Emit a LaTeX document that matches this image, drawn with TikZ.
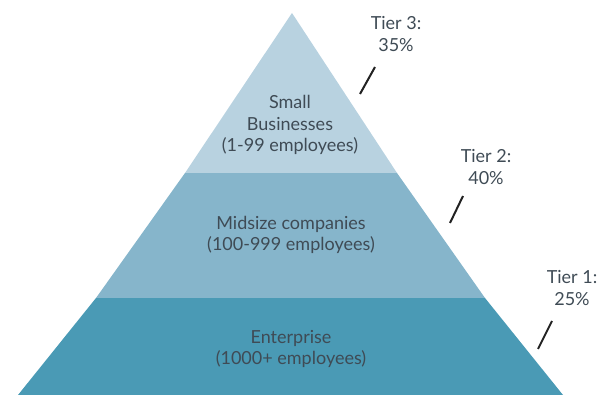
\documentclass[tikz,border=0pt]{standalone}
\usepackage{fontspec}
\setmainfont{Lato}
\definecolor{tierA}{HTML}{B8D2E0}
\definecolor{tierB}{HTML}{86B5CB}
\definecolor{tierC}{HTML}{4A9AB5}
\definecolor{txt}{HTML}{3F4B55}
\definecolor{tick}{HTML}{222222}
\begin{document}
\begin{tikzpicture}[x=1pt,y=-1pt,
  lab/.style={text=txt,font=\fontsize{18}{21.5}\selectfont,align=center,inner sep=0pt},
  tickline/.style={draw=tick,line width=2pt}]
\useasboundingbox (0,0) rectangle (597,395);
\fill[tierC] (96,298) -- (485,298) -- (563,395) -- (18,395) -- cycle;
\fill[tierB] (185,173) -- (397,173) -- (485,298) -- (96,298) -- cycle;
\fill[tierA] (292,13) -- (397,173) -- (185,173) -- cycle;
\node[lab] (small) at (290,125) {Small\\Businesses\\(1-99 employees)};
\node[lab] (mid) at (291,235) {Midsize companies\\(100-999 employees)};
\node[lab] (ent) at (291,349) {Enterprise\\(1000+ employees)};
\node[lab] (t3) at (396,34) {Tier 3:\\35\%};
\node[lab] (t2) at (486,167) {Tier 2:\\40\%};
\node[lab] (t1) at (572,288) {Tier 1:\\25\%};
\coordinate (a3) at (375,67); \coordinate (b3) at (360,94);
\coordinate (a2) at (463,196); \coordinate (b2) at (450,223);
\coordinate (a1) at (552,321); \coordinate (b1) at (538,349);
\draw[tickline] (a3) -- (b3);
\draw[tickline] (a2) -- (b2);
\draw[tickline] (a1) -- (b1);
\end{tikzpicture}
\end{document}
